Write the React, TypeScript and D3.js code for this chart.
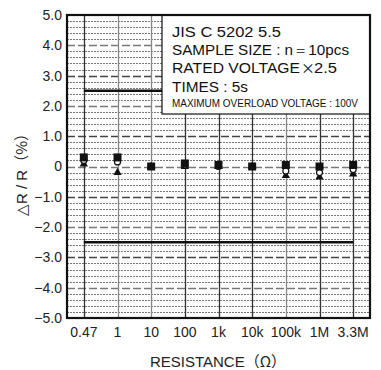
import React from "react";
import * as d3 from "d3";

const categories = ["0.47", "1", "10", "100", "1k", "10k", "100k", "1M", "3.3M"];
const squareValues = [0.3, 0.3, 0, 0.1, 0.05, 0, 0.05, 0, 0.05];
const circleValues = [0.2, 0.15, 0, 0.05, 0, 0, -0.15, -0.2, -0.1];
const triangleValues = [0.08, -0.2, 0, 0, 0, 0, -0.3, -0.35, -0.25];
const yTicks = [5, 4, 3, 2, 1, 0, -1, -2, -3, -4, -5];
const limitValues = [2.5, -2.5];
const legendLines = [
  "JIS C 5202 5.5",
  "SAMPLE SIZE : n＝10pcs",
  "RATED VOLTAGE",
  "TIMES : 5s",
];
const legendSmall = "MAXIMUM OVERLOAD VOLTAGE : 100V";
const yTitleMain = "△R / R";
const yTitleUnit = "（%）";
const xTitleMain = "RESISTANCE";
const xTitleUnit = "（Ω）";

const W = 381;
const H = 370;
const L = 67, R = 370, T = 15, B = 318;
const FONT = "'Liberation Sans', Arial, Helvetica, sans-serif";
const CJK = "'Noto Sans CJK JP', sans-serif";

function fmt(v: number) {
  if (v === 0) return "0";
  const s = Math.abs(v).toFixed(1);
  return v < 0 ? "−" + s : s;
}

export default function App() {
  const y = d3.scaleLinear().domain([-5, 5]).range([B, T]);
  const x = d3.scalePoint<string>().domain(categories).range([L, R]).padding(0.5);
  const minor = d3.range(-24, 25).map((i) => i / 5).filter((v) => Math.abs(v - Math.round(v)) > 1e-6);
  const legendWidths = [109, 177, 128, 76];
  const tri = d3.symbol().type(d3.symbolTriangle).size(30)() as string;
  const py = (v: number) => Math.round(y(v)) + 0.5;

  return (
    <svg width={W} height={H} style={{ position: "absolute", left: 0, top: 0, background: "#fff" }}>
      <rect x={0} y={0} width={W} height={H} fill="#fff" />
      {/* minor dotted grid */}
      {minor.map((v, i) => (
        <line key={"m" + i} x1={L} x2={R} y1={py(v)} y2={py(v)} stroke="#777" strokeWidth={1} strokeDasharray="2,1" shapeRendering="crispEdges" />
      ))}
      {/* integer dashed grid */}
      {yTicks.slice(1, -1).map((v, i) => (
        <line key={"d" + i} x1={L} x2={R} y1={py(v)} y2={py(v)} stroke={Math.abs(v) % 2 === 0 ? "#777" : "#444"} strokeWidth={1.4} strokeDasharray="8,3" />
      ))}
      {/* vertical lines */}
      {categories.map((c, i) => (
        <line key={"v" + i} x1={Math.round(x(c) as number) + 0.5} x2={Math.round(x(c) as number) + 0.5} y1={T} y2={B} stroke={i === 1 || i === 2 || i === 6 ? "#888" : "#333"} strokeWidth={1.3} />
      ))}
      {/* limit lines */}
      {limitValues.map((v, i) => (
        <line key={"l" + i} x1={x(categories[0])} x2={x(categories[categories.length - 1])} y1={y(v)} y2={y(v)} stroke="#111" strokeWidth={2.4} />
      ))}
      {/* legend box */}
      <rect x={162} y={T} width={R - 162} height={114 - T} fill="#fff" stroke="#111" strokeWidth={1.2} />
      {legendLines.map((t, i) => (
        <text key={"lg" + i} x={172} y={36.5 + i * 18.4} fontFamily={FONT} fontSize={14} fill="#111" textLength={legendWidths[i]} lengthAdjust="spacingAndGlyphs">{t}</text>
      ))}
      <text x={301} y={36.5 + 2 * 18.4} fontFamily={CJK} fontSize={14} fill="#111">×</text>
      <text x={314} y={36.5 + 2 * 18.4} fontFamily={FONT} fontSize={14} fill="#111" textLength={23} lengthAdjust="spacingAndGlyphs">2.5</text>
      <text x={172} y={106.5} fontFamily={FONT} fontSize={10.5} fill="#111" textLength={186} lengthAdjust="spacingAndGlyphs">{legendSmall}</text>
      {/* markers */}
      {categories.map((c, i) => (
        <path key={"t" + i} d={tri} transform={`translate(${x(c)},${y(triangleValues[i])})`} fill="#111" />
      ))}
      {categories.map((c, i) => (
        <circle key={"c" + i} cx={x(c)} cy={y(circleValues[i])} r={3} fill="#fff" stroke="#111" strokeWidth={1.2} />
      ))}
      {categories.map((c, i) => (
        <rect key={"s" + i} x={(x(c) as number) - 4} y={y(squareValues[i]) - 4} width={8} height={8} fill="#111" />
      ))}
      {/* plot border */}
      <rect x={L} y={T} width={R - L} height={B - T} fill="none" stroke="#111" strokeWidth={2.2} />
      {/* y tick labels */}
      {yTicks.map((v, i) => (
        <text key={"yt" + i} x={62} y={y(v)} dy="0.35em" textAnchor="end" fontFamily={FONT} fontSize={14} fill="#222">{fmt(v)}</text>
      ))}
      {/* x tick labels */}
      {categories.map((c, i) => (
        <text key={"xt" + i} x={x(c)} y={337} textAnchor="middle" fontFamily={FONT} fontSize={14} fill="#222">{c}</text>
      ))}
      {/* axis titles */}
      <text transform={`translate(27,171) rotate(-90)`} textAnchor="middle" fontFamily={FONT} fontSize={15} fill="#222">
        {yTitleMain}
        <tspan fontFamily={CJK}>{yTitleUnit}</tspan>
      </text>
      <text x={218} y={367} textAnchor="middle" fontFamily={FONT} fontSize={15} fill="#222">
        {xTitleMain}
        <tspan fontFamily={CJK}>{xTitleUnit}</tspan>
      </text>
    </svg>
  );
}
